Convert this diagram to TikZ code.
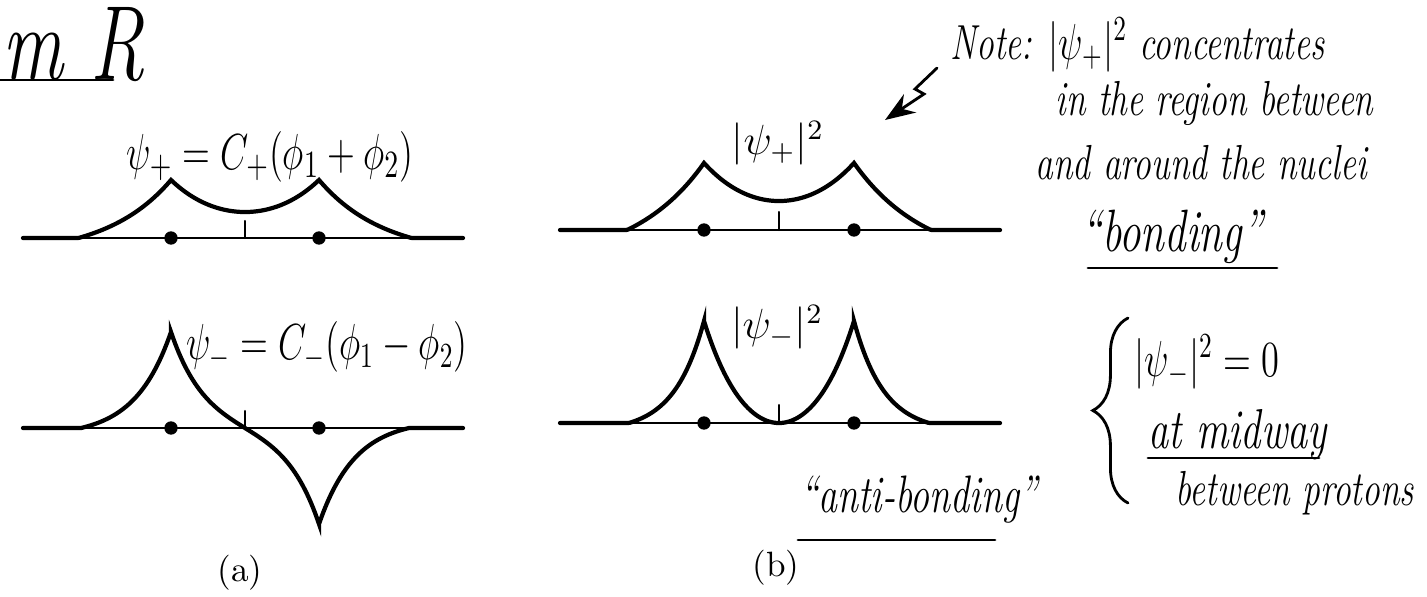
\documentclass[tikz,border=0pt]{standalone}
\usepackage{amsmath,amssymb}
\usepackage{graphicx}
\usetikzlibrary{arrows.meta,decorations.pathreplacing}
\newcommand{\hw}[2][14]{\scalebox{.72}[1]{\fontsize{#1}{#1}\selectfont\itshape #2}}
\tikzset{
  >={Stealth[length=3mm,width=2.2mm]},
  cv/.style={line width=1.2pt},
  ax/.style={line width=0.6pt},
  ul/.style={line width=0.8pt},
  d/.style={circle,fill,minimum size=3.8pt,inner sep=0pt},
  lb/.style={inner sep=0pt},
  declare function={lobe(\rA,\lA,\wA)=max(0,exp(-abs(\rA)/\lA)-exp(-\wA/\lA))/(1-exp(-\wA/\lA));},
  every picture/.style={line cap=round},
}

\begin{document}
\begin{tikzpicture}[x=0.01cm,y=-0.01cm]
\useasboundingbox (0,0) rectangle (1427,596);
% heading
\node[lb,anchor=west] (hd) at (2,45) {\hw[30]{m R}};
\draw[ul] (0,80) -- (113,80);
% (a) psi+
\node[lb] (la1) at (270,157) {\hw[15]{$\psi_+ = C_+(\phi_1+\phi_2)$}};
\draw[ax] (23,238) -- (463,238); \draw[ax] (245,238) -- (245,221);
\draw[cv] plot[domain=23:463,samples=221] (\x,{238-max(0,69.3*(exp(-abs(\x-171)/65)+exp(-abs(\x-319)/65))-18.4)});
\node[d] (a1) at (171,238){}; \node[d] (a2) at (319,238){};
% (a) psi-
\node[lb] (la2) at (327,347) {\hw{$\psi_- = C_-(\phi_1-\phi_2)$}};
\draw[ax] (23,428) -- (463,428); \draw[ax] (245,428) -- (245,411);
\draw[cv] plot[domain=23:171,samples=75] (\x,{428-96*lobe(\x-171,36,90)})
  -- plot[domain=171:319,samples=75] (\x,{428-97.1*(exp(-(\x-171)/33)-exp(-(319-\x)/33))})
  -- plot[domain=319:463,samples=73] (\x,{428+96*lobe(\x-319,36,90)});
\node[d] (a3) at (171,428){}; \node[d] (a4) at (319,428){};
\node[lb] (ca) at (240,573) {(a)};
% (b) |psi+|^2
\node[lb,font=\large] (lb1) at (778,143) {$|\psi_+|^2$};
\draw[ax] (560,230) -- (1000,230); \draw[ax] (779,230) -- (779,212);
\draw[cv] plot[domain=560:1000,samples=221] (\x,{230-max(0,90.8*(exp(-abs(\x-704)/72)+exp(-abs(\x-854)/72))-35.1)});
\node[d] (b1) at (704,230){}; \node[d] (b2) at (854,230){};
% (b) |psi-|^2
\node[lb,font=\large] (lb2) at (777,327) {$|\psi_-|^2$};
\draw[ax] (560,423) -- (1000,423); \draw[ax] (779,423) -- (779,405);
\draw[cv] plot[domain=560:704,samples=73] (\x,{423-102*lobe(\x-704,30,75)})
  -- plot[domain=704:854,samples=76] (\x,{423-169*(exp(-(\x-704)/100)-exp(-(854-\x)/100))^2})
  -- plot[domain=854:1000,samples=74] (\x,{423-102*lobe(\x-854,30,75)});
\node[d] (b3) at (704,423){}; \node[d] (b4) at (854,423){};
\node[lb] (cb) at (776,568) {(b)};
% note
\node[lb,anchor=west] (nt1) at (950,45) {\hw{Note: $|\psi_+|^2$ concentrates}};
\node[lb,anchor=west] (nt2) at (1055,103) {\hw{in the region between}};
\node[lb,anchor=west] (nt3) at (1035,163) {\hw{and around the nuclei}};
\node[lb] (bd) at (1172,237) {\hw[17]{``bonding''}};
\draw[ul] (1088,268) -- (1277,268);
\coordinate (ns) at (937,68); \coordinate (nk1) at (915,89); \coordinate (nk2) at (924,94); \coordinate (ne) at (885,120);
\draw[->,ul] (ns) -- (nk1) -- (nk2) -- (ne);
% anti-bonding
\draw[ul,decorate,decoration={brace,amplitude=10pt}] (1128,503) -- (1128,318);
\node[lb,anchor=west] (z0) at (1134,362) {\hw{$|\psi_-|^2 = 0$}};
\node[lb,anchor=west] (mw) at (1148,435) {\hw[16]{at midway}};
\draw[ul] (1148,458) -- (1319,458);
\node[lb,anchor=west] (bp) at (1175,493) {\hw{between protons}};
\node[lb,anchor=west] (ab) at (800,500) {\hw[15]{``anti-bonding''}};
\draw[ul] (798,540) -- (995,540);
\end{tikzpicture}
\end{document}
